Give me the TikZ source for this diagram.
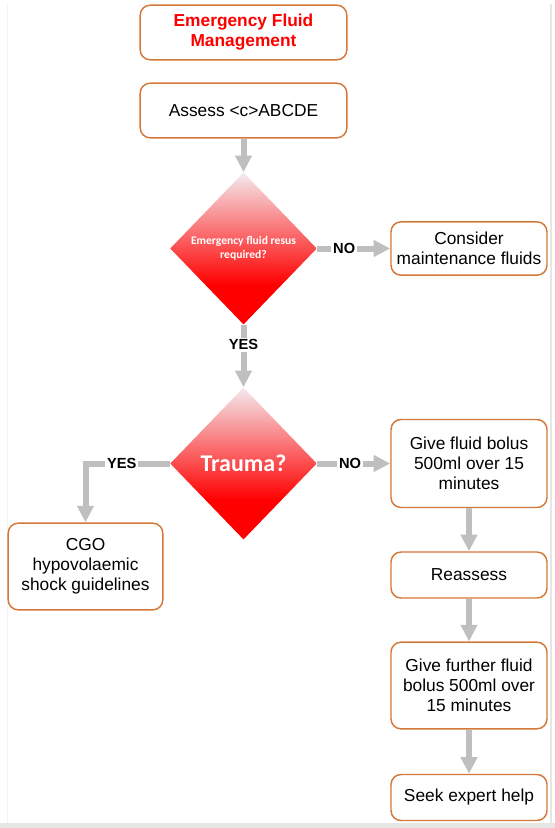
\documentclass[tikz,border=0pt]{standalone}
\usepackage{fontspec}
\setmainfont{Liberation Sans}
\newfontfamily\calibrifont{Carlito}
\usetikzlibrary{arrows.meta, shapes.geometric}
\definecolor{boxorange}{RGB}{212,120,58}
\definecolor{arrowgray}{RGB}{191,191,191}
\definecolor{titlered}{RGB}{255,0,0}
\definecolor{framegray}{RGB}{230,230,230}
\definecolor{paletop}{RGB}{244,234,238}
\pgfdeclareverticalshading{redfade}{100bp}{color(0bp)=(red); color(38bp)=(red); color(75bp)=(paletop); color(100bp)=(paletop)}
\tikzset{
  stepbox/.style={
    draw=boxorange,
    line width=1.1pt,
    rounded corners=7.5pt,
    fill=white,
    align=center,
    inner sep=3pt,
    minimum width=117pt,
    font=\fontsize{13}{15}\selectfont,
    text=black
  },
  titlebox/.style={
    stepbox,
    minimum width=155pt,
    minimum height=41pt,
    font=\fontsize{13}{15}\selectfont\bfseries,
    text=titlered
  },
  decision/.style={
    diamond,
    shading=redfade,
    draw=none,
    inner sep=0pt,
    minimum width=110pt,
    minimum height=114pt,
    align=center,
    text=white
  },
  flow/.style={-{Triangle[width=12pt,length=12.5pt]}, line width=4.5pt, draw=arrowgray},
  answer/.style={fill=white, inner sep=1.5pt, font=\fontsize{11}{13}\selectfont\bfseries, text=black}
}

\begin{document}
\begin{tikzpicture}[x=0.75pt,y=-0.75pt]
    \useasboundingbox (0,0) rectangle (555,828);
    \fill[framegray] (0,823) rectangle (555,828);
    \draw[framegray!50, line width=0.6pt] (7,4) -- (7,823);
    \draw[framegray, line width=1.5pt] (551,4) -- (551,823);

    \node[titlebox] (title) at (243.5,32.5) {Emergency Fluid\\Management};
    \node[stepbox, minimum width=155pt, minimum height=41pt] (assess) at (243.5,110.5) {Assess <c>ABCDE};
    \node[decision, font=\calibrifont\bfseries\fontsize{8.7}{10}\selectfont] (resus) at (243.5,248.5) {Emergency fluid resus\\required?};
    \node[stepbox, minimum height=40pt] (consider) at (469,248.5) {Consider\\maintenance fluids};
    \node[decision, font=\calibrifont\bfseries\fontsize{18}{20}\selectfont] (trauma) at (243.5,463.5) {Trauma?};
    \node[stepbox, minimum height=66pt] (bolus) at (469,463.5) {Give fluid bolus\\500ml over 15\\minutes};
    \node[stepbox, minimum width=116pt, minimum height=65pt] (cgo) at (85.5,566.5) {CGO\\hypovolaemic\\shock guidelines};
    \node[stepbox, minimum height=34.5pt] (reassess) at (469,575) {Reassess};
    \node[stepbox, minimum height=65pt] (further) at (469,685.5) {Give further fluid\\bolus 500ml over\\15 minutes};
    \node[stepbox, minimum height=34.5pt] (seek) at (469,797.5) {Seek expert help};

    \draw[flow] (assess) -- (resus);
    \draw[flow] (resus) -- node[answer, pos=0.37] (no1) {NO} (consider);
    \draw[flow] (resus) -- node[answer, pos=0.32] (yes1) {YES} (trauma);
    \draw[flow] (trauma) -- node[answer, pos=0.45] (no2) {NO} (bolus);
    \draw[flow] (trauma.west) -| node[answer, pos=0.285] (yes2) {YES} (cgo.north);
    \draw[flow] (bolus) -- (reassess);
    \draw[flow] (reassess) -- (further);
    \draw[flow] (further) -- (seek);
  \end{tikzpicture}
\end{document}
